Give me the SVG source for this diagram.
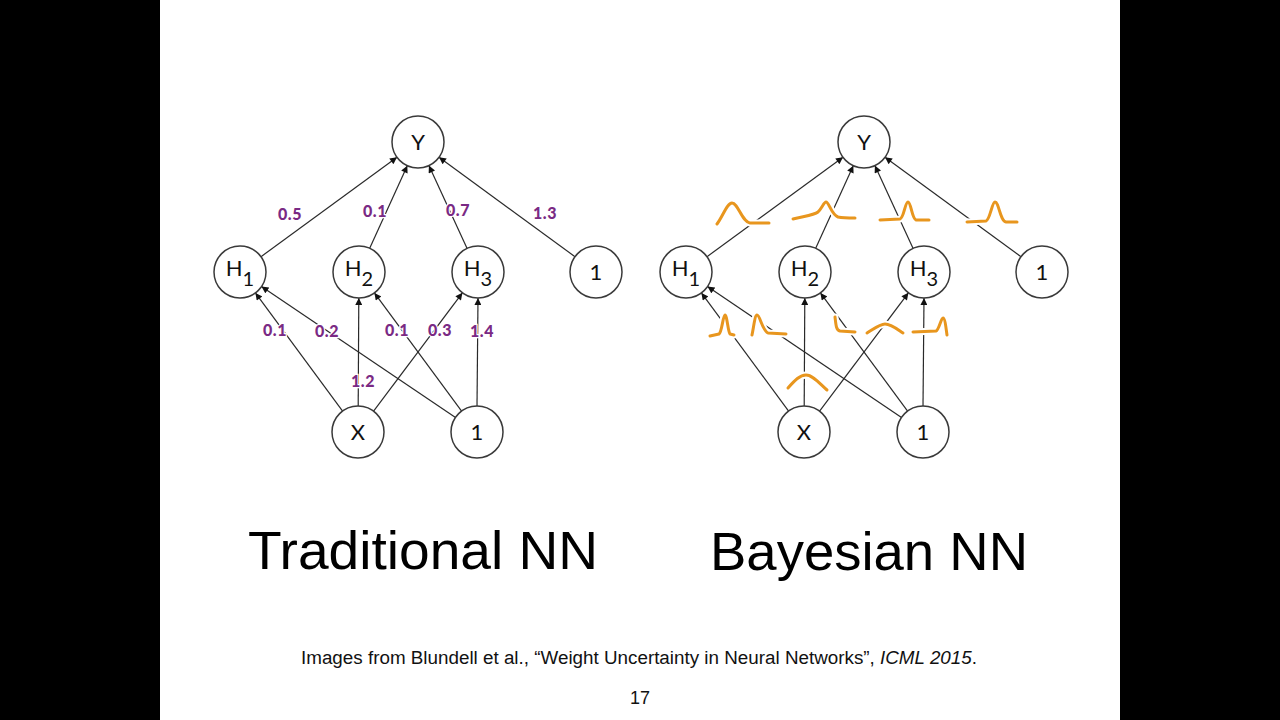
<svg xmlns="http://www.w3.org/2000/svg" width="1280" height="720" viewBox="0 0 1280 720">
<defs>
<marker id="arr" viewBox="0 0 10 10" refX="10" refY="5" markerWidth="8" markerHeight="7" orient="auto" markerUnits="userSpaceOnUse">
<path d="M0,0 L10,5 L0,10 z" fill="#111"/>
</marker>
</defs>
<style>
.node circle{fill:#fff;stroke:#3a3a3a;stroke-width:1.5}
.node text{font-family:Lato,"Open Sans","Liberation Sans",sans-serif;font-size:22px;fill:#111;text-anchor:middle}
.edge{stroke:#2a2a2a;stroke-width:1.2;fill:none;marker-end:url(#arr)}
.w{font-family:Lato,"Liberation Sans",sans-serif;font-weight:900;font-size:16px;fill:#7a2a84;text-anchor:middle;stroke:#fff;stroke-width:2.5;paint-order:stroke;letter-spacing:0.5px}
.halo{stroke:#fff;stroke-width:7;fill:none;stroke-linecap:round;stroke-linejoin:round}
.pd{stroke:#e8961e;stroke-width:3;fill:none;stroke-linecap:round;stroke-linejoin:round}
.title{font-family:"Liberation Sans",Arial,sans-serif;font-size:54px;fill:#000}
.cap{font-family:"Liberation Sans",Arial,sans-serif;font-size:18px;fill:#111}
</style>
<rect x="0" y="0" width="1280" height="720" fill="#000"/>
<rect x="160" y="0" width="960" height="720" fill="#fff"/>

<!-- Traditional NN connectors -->
<g id="connectors-nn">
<line class="edge" x1="261" y1="256.7" x2="397" y2="157.3"/>
<line class="edge" x1="369.7" y1="248.3" x2="407.3" y2="165.7"/>
<line class="edge" x1="467.1" y1="248.4" x2="428.9" y2="165.6"/>
<line class="edge" x1="575" y1="256.7" x2="439" y2="157.3"/>
<line class="edge" x1="342.6" y1="411.1" x2="255.4" y2="292.9"/>
<line class="edge" x1="455.5" y1="417.5" x2="261.5" y2="286.5"/>
<line class="edge" x1="358.2" y1="406" x2="358.8" y2="298"/>
<line class="edge" x1="461.6" y1="411.1" x2="374.4" y2="292.9"/>
<line class="edge" x1="373.6" y1="411.2" x2="462.4" y2="292.8"/>
<line class="edge" x1="477" y1="406" x2="478" y2="298"/>
</g>

<!-- Bayesian NN connectors -->
<g id="connectors-bnn" transform="translate(446,0)">
<line class="edge" x1="261" y1="256.7" x2="397" y2="157.3"/>
<line class="edge" x1="369.7" y1="248.3" x2="407.3" y2="165.7"/>
<line class="edge" x1="467.1" y1="248.4" x2="428.9" y2="165.6"/>
<line class="edge" x1="575" y1="256.7" x2="439" y2="157.3"/>
<line class="edge" x1="342.6" y1="411.1" x2="255.4" y2="292.9"/>
<line class="edge" x1="455.5" y1="417.5" x2="261.5" y2="286.5"/>
<line class="edge" x1="358.2" y1="406" x2="358.8" y2="298"/>
<line class="edge" x1="461.6" y1="411.1" x2="374.4" y2="292.9"/>
<line class="edge" x1="373.6" y1="411.2" x2="462.4" y2="292.8"/>
<line class="edge" x1="477" y1="406" x2="478" y2="298"/>
</g>

<!-- Traditional NN nodes -->
<g id="nn-y" class="node"><circle cx="418" cy="142" r="26"/><text x="418" y="150">Y</text></g>
<g id="nn-h1" class="node"><circle cx="240" cy="272" r="26"/><text x="240" y="276">H<tspan dy="10" font-size="20">1</tspan></text></g>
<g id="nn-h2" class="node"><circle cx="359" cy="272" r="26"/><text x="359" y="276">H<tspan dy="10" font-size="20">2</tspan></text></g>
<g id="nn-h3" class="node"><circle cx="478" cy="272" r="26"/><text x="478" y="276">H<tspan dy="10" font-size="20">3</tspan></text></g>
<g id="nn-b1" class="node"><circle cx="596" cy="272" r="26"/><text x="596" y="280">1</text></g>
<g id="nn-x" class="node"><circle cx="358" cy="432" r="26"/><text x="358" y="440">X</text></g>
<g id="nn-b2" class="node"><circle cx="477" cy="432" r="26"/><text x="477" y="440">1</text></g>

<!-- Bayesian NN nodes -->
<g transform="translate(446,0)">
<g id="bnn-y" class="node"><circle cx="418" cy="142" r="26"/><text x="418" y="150">Y</text></g>
<g id="bnn-h1" class="node"><circle cx="240" cy="272" r="26"/><text x="240" y="276">H<tspan dy="10" font-size="20">1</tspan></text></g>
<g id="bnn-h2" class="node"><circle cx="359" cy="272" r="26"/><text x="359" y="276">H<tspan dy="10" font-size="20">2</tspan></text></g>
<g id="bnn-h3" class="node"><circle cx="478" cy="272" r="26"/><text x="478" y="276">H<tspan dy="10" font-size="20">3</tspan></text></g>
<g id="bnn-b1" class="node"><circle cx="596" cy="272" r="26"/><text x="596" y="280">1</text></g>
<g id="bnn-x" class="node"><circle cx="358" cy="432" r="26"/><text x="358" y="440">X</text></g>
<g id="bnn-b2" class="node"><circle cx="477" cy="432" r="26"/><text x="477" y="440">1</text></g>
</g>

<!-- Weight labels -->
<g id="weights">
<text class="w" x="290" y="220">0.5</text>
<text class="w" x="375" y="217">0.1</text>
<text class="w" x="458" y="216">0.7</text>
<text class="w" x="545" y="219">1.3</text>
<text class="w" x="275" y="336">0.1</text>
<text class="w" x="327" y="337">0.2</text>
<text class="w" x="397" y="336">0.1</text>
<text class="w" x="440" y="336">0.3</text>
<text class="w" x="482" y="337">1.4</text>
<text class="w" x="363" y="387">1.2</text>
</g>

<!-- Weight distributions -->
<g id="distributions">
<g class="halo">
<path d="M717,224 C723,216 727,203 732,203 C738,203 742,222 750,223 L769,223"/>
<path d="M793,219 C805,216 814,215 818,212 C822,208 824,202 826,202 C829,202 831,214 838,217 C843,218 850,218 855,218"/>
<path d="M880,220 L900,219 C904,218 905,202 908,202 C911,202 912,219 916,220 L929,220"/>
<path d="M967,222 L986,221 C990,220 992,202 995,202 C999,202 1000,221 1006,222 L1017,222"/>
<path d="M710,336 L719,334 C722,332 723,315 725,315 C727,315 728,332 730,334 L734,335"/>
<path d="M752,335 C754,325 755,315 757,315 C760,315 762,330 768,333 L786,334"/>
<path d="M835,317 C836,325 836,330 840,331 L855,332"/>
<path d="M867,333 C875,328 880,324 885,324 C891,324 897,329 903,333"/>
<path d="M913,332 L936,331 C939,330 941,318 943,318 C945,318 946,328 947,335"/>
<path d="M788,388 C795,380 800,375 806,375 C813,375 820,384 827,390"/>
</g>
<g class="pd">
<path d="M717,224 C723,216 727,203 732,203 C738,203 742,222 750,223 L769,223"/>
<path d="M793,219 C805,216 814,215 818,212 C822,208 824,202 826,202 C829,202 831,214 838,217 C843,218 850,218 855,218"/>
<path d="M880,220 L900,219 C904,218 905,202 908,202 C911,202 912,219 916,220 L929,220"/>
<path d="M967,222 L986,221 C990,220 992,202 995,202 C999,202 1000,221 1006,222 L1017,222"/>
<path d="M710,336 L719,334 C722,332 723,315 725,315 C727,315 728,332 730,334 L734,335"/>
<path d="M752,335 C754,325 755,315 757,315 C760,315 762,330 768,333 L786,334"/>
<path d="M835,317 C836,325 836,330 840,331 L855,332"/>
<path d="M867,333 C875,328 880,324 885,324 C891,324 897,329 903,333"/>
<path d="M913,332 L936,331 C939,330 941,318 943,318 C945,318 946,328 947,335"/>
<path d="M788,388 C795,380 800,375 806,375 C813,375 820,384 827,390"/>
</g>
</g>

<!-- Titles and caption -->
<text class="title" x="248" y="569" textLength="350" lengthAdjust="spacingAndGlyphs">Traditional NN</text>
<text class="title" x="710" y="570" textLength="318" lengthAdjust="spacingAndGlyphs">Bayesian NN</text>
<text class="cap" x="301" y="664" textLength="676" lengthAdjust="spacingAndGlyphs">Images from Blundell et al., “Weight Uncertainty in Neural Networks”, <tspan font-style="italic">ICML 2015</tspan>.</text>
<text class="cap" x="640" y="704" text-anchor="middle" font-size="17">17</text>
</svg>
